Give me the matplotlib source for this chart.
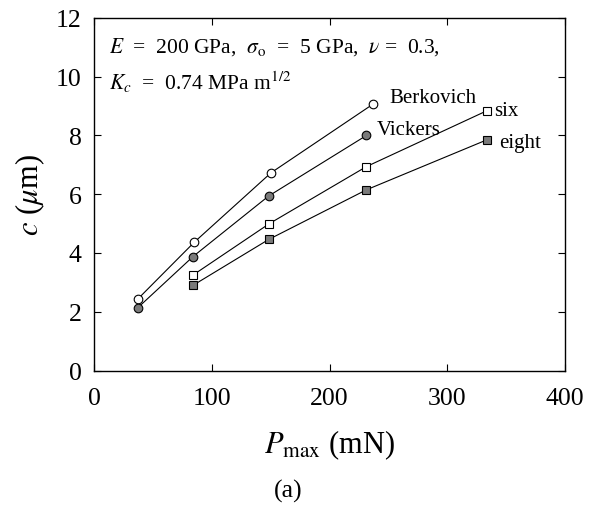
import matplotlib
matplotlib.use("Agg")
import matplotlib.pyplot as plt

# =========================
# DATA
# =========================
p_berk = [37.6, 85.2, 150.3, 237.0]
c_berk = [2.45, 4.37, 6.73, 9.07]

p_vick = [37.0, 84.1, 148.3, 231.3]
c_vick = [2.13, 3.88, 5.94, 8.00]

p_six = [84.1, 148.9, 231.3, 333.5]
c_six = [3.25, 5.00, 6.94, 8.84]

p_eight = [84.1, 148.3, 231.3, 333.5]
c_eight = [2.90, 4.46, 6.15, 7.85]

xticks = [0, 100, 200, 300, 400]
yticks = [0, 2, 4, 6, 8, 10, 12]

# =========================
# STYLE
# =========================
plt.rcParams["font.family"] = ["Liberation Serif", "DejaVu Serif"]
plt.rcParams["mathtext.fontset"] = "stix"

gray = "#7a7a7a"
lw = 0.8

fig = plt.figure(figsize=(5.97, 5.06), dpi=100)
ax = fig.add_axes([0.1575, 0.2658, 0.789, 0.6967])

ax.plot(p_berk, c_berk, "-o", color="k", lw=lw, ms=6.2, mfc="white", mec="k", mew=0.8)
ax.plot(p_vick, c_vick, "-o", color="k", lw=lw, ms=6.2, mfc=gray, mec="k", mew=0.8)
ax.plot(p_six, c_six, "-s", color="k", lw=lw, ms=5.6, mfc="white", mec="k", mew=0.8)
ax.plot(p_eight, c_eight, "-s", color="k", lw=lw, ms=5.6, mfc=gray, mec="k", mew=0.8)

ax.text(251, 9.3, "Berkovich", fontsize=15, va="center", ha="left")
ax.text(240, 8.2, "Vickers", fontsize=15, va="center", ha="left")
ax.text(340, 8.86, "six", fontsize=15, va="center", ha="left")
ax.text(344, 7.76, "eight", fontsize=15, va="center", ha="left")

# parameter note, wide spacing like the original
ax.text(13, 11.05,
        r"$E$  =  200 GPa,  $\sigma_{\mathrm{o}}$  =  5 GPa,  $\nu$ =  0.3,",
        fontsize=15.5, va="center", ha="left")
ax.text(13, 9.86, r"$K_c$  =  0.74 MPa m$^{1/2}$",
        fontsize=15.5, va="center", ha="left")

ax.set_xlim(0, 400)
ax.set_ylim(0, 12)
ax.set_xticks(xticks)
ax.set_yticks(yticks)
ax.tick_params(direction="in", length=5, width=0.8, top=True, right=True,
               labelsize=18.5)
ax.tick_params(axis="x", pad=12)
ax.tick_params(axis="y", pad=9)
for s in ax.spines.values():
    s.set_linewidth(1.0)

ax.set_xlabel(r"$P_{\mathrm{max}}$ (mN)", fontsize=22, labelpad=13)
ax.set_ylabel(r"$c$ ($\mu$m)", fontsize=22, labelpad=6)

fig.text(0.482, 0.0296, "(a)", fontsize=18.5, ha="center", va="center")

fig.savefig("out.png", dpi=100)
